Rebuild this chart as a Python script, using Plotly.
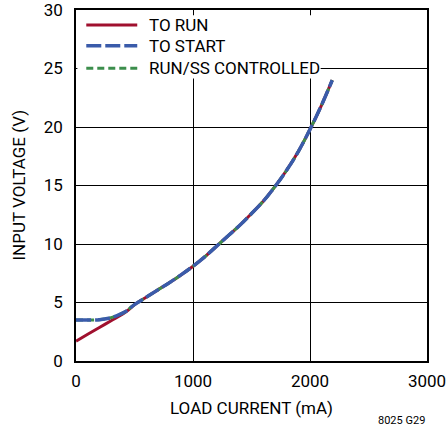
import plotly.graph_objects as go

# ---- data ----
run_x = [0, 100, 200, 300, 400, 450, 500, 600, 700, 800, 900, 1000, 1100, 1200, 1300, 1400,
         1500, 1600, 1700, 1800, 1900, 2000, 2100, 2190]
run_y = [1.7, 2.28, 2.86, 3.44, 4.02, 4.38, 4.82, 5.45, 6.08, 6.7, 7.38, 8.1, 8.9, 9.8, 10.7, 11.6,
         12.6, 13.65, 14.9, 16.3, 17.9, 19.8, 21.9, 24.0]

start_x = [0, 100, 200, 280, 350, 420, 500, 600, 700, 800, 900, 1000, 1100, 1200, 1300,
           1400, 1500, 1600, 1700, 1800, 1900, 2000, 2100, 2190]
start_y = [3.5, 3.5, 3.53, 3.65, 3.88, 4.2, 4.82, 5.45, 6.08, 6.7, 7.38, 8.1, 8.9, 9.8, 10.7,
           11.6, 12.6, 13.65, 14.9, 16.3, 17.9, 19.8, 21.9, 24.0]

ss_x = start_x
ss_y = start_y

x_ticks = [0, 1000, 2000, 3000]
y_ticks = [0, 5, 10, 15, 20, 25, 30]

RED = "#A0102E"
BLUE = "#3A5BAA"
GREEN = "#3C8E4C"
FONT = "Roboto, Liberation Sans, Arial, sans-serif"

fig = go.Figure()
fig.add_trace(go.Scatter(x=run_x, y=run_y, mode="lines", name="TO RUN",
                         line=dict(color=RED, width=3, shape="spline", smoothing=1.0)))
fig.add_trace(go.Scatter(x=ss_x, y=ss_y, mode="lines", name="RUN/SS CONTROLLED",
                         line=dict(color=GREEN, width=3, dash="7px,4px", shape="spline", smoothing=1.0)))
fig.add_trace(go.Scatter(x=start_x, y=start_y, mode="lines", name="TO START",
                         line=dict(color=BLUE, width=3.5, dash="15px,4px", shape="spline", smoothing=1.0)))

axis_common = dict(showgrid=True, gridcolor="black", gridwidth=1, showline=True,
                   linecolor="black", linewidth=1.5, mirror=True, ticks="", zeroline=False,
                   automargin=False, ticklabeloverflow="allow",
                   tickfont=dict(family=FONT, size=17, color="black"))
fig.update_xaxes(range=[0, 3000], tickvals=x_ticks, ticktext=[str(v) for v in x_ticks],
                 ticklabelstandoff=4, **axis_common)
fig.update_yaxes(range=[0, 30], tickvals=y_ticks, ticktext=[str(v) for v in y_ticks],
                 ticklabelstandoff=8, **axis_common)

# legend (manual)
shapes = [dict(type="rect", xref="paper", yref="paper", x0=0.004, x1=0.697, y0=0.805, y1=0.985,
               fillcolor="white", line=dict(width=0), layer="above")]
leg = [("TO RUN", RED, "solid", 3, 0.957), ("TO START", BLUE, "15px,4px", 3.5, 0.898),
       ("RUN/SS CONTROLLED", GREEN, "7px,4px", 3, 0.834)]
annotations = []
for name, col, dash, w, yy in leg:
    shapes.append(dict(type="line", xref="paper", yref="paper", x0=0.0293, x1=0.1745, y0=yy, y1=yy,
                       line=dict(color=col, width=w, dash=dash), layer="above"))
    annotations.append(dict(text=name, xref="paper", yref="paper", x=0.203, y=yy, xanchor="left",
                            yanchor="middle", showarrow=False,
                            font=dict(family=FONT, size=17, color="black")))
annotations.append(dict(text="LOAD CURRENT (mA)", xref="paper", yref="paper", x=0.5, y=-0.134,
                        xanchor="center", yanchor="middle", showarrow=False,
                        font=dict(family=FONT, size=17, color="black")))
annotations.append(dict(text="INPUT VOLTAGE (V)", xref="paper", yref="paper", x=-0.165, y=0.5,
                        xanchor="center", yanchor="middle", showarrow=False, textangle=-90,
                        font=dict(family=FONT, size=17, color="black")))
annotations.append(dict(text="8025 G29", xref="paper", yref="paper", x=1.0, y=-0.17,
                        xanchor="right", yanchor="middle", showarrow=False,
                        font=dict(family=FONT, size=11, color="black")))

fig.update_layout(width=447, height=433, margin=dict(l=76, r=20, t=10, b=72),
                  plot_bgcolor="white", paper_bgcolor="white", showlegend=False,
                  shapes=shapes, annotations=annotations)
fig.write_html("out.html", config={"displayModeBar": False},
               post_script="document.body.style.margin='0';document.body.style.overflow='hidden';")
